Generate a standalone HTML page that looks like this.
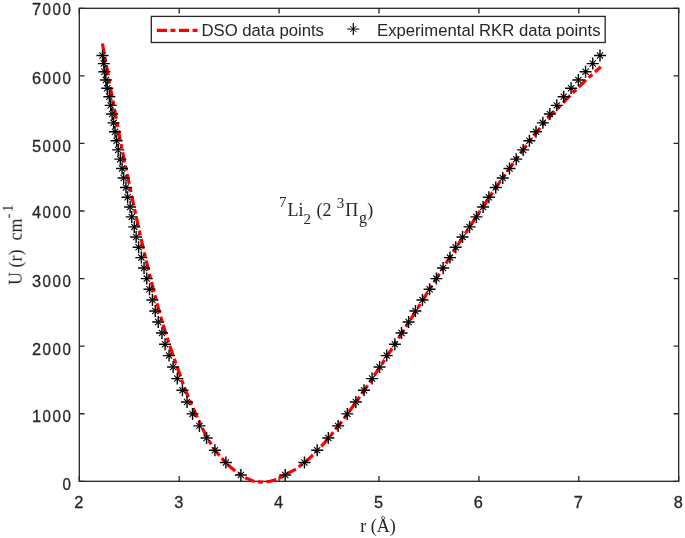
<!DOCTYPE html>
<html><head><meta charset="utf-8"><style>
html,body{margin:0;padding:0;background:#fff;}
svg{display:block;}
.t{font-family:"Liberation Sans",sans-serif;fill:#262626;}
.s{font-family:"Liberation Serif",serif;fill:#262626;}
</style></head><body>
<svg width="685" height="538" viewBox="0 0 685 538">
<defs><filter id="bl" x="-2%" y="-2%" width="104%" height="104%" color-interpolation-filters="sRGB"><feGaussianBlur stdDeviation="0.3"/></filter></defs>
<rect x="0" y="0" width="685" height="538" fill="#fff"/>
<g filter="url(#bl)">
<g transform="translate(0.5,0.5)">
<rect x="78.8" y="7.8" width="599.40" height="473.00" fill="none" stroke="#262626" stroke-width="1.3"/>
<path d="M78.80,480.8V475.6M78.80,7.8V13.0M178.70,480.8V475.6M178.70,7.8V13.0M278.60,480.8V475.6M278.60,7.8V13.0M378.50,480.8V475.6M378.50,7.8V13.0M478.40,480.8V475.6M478.40,7.8V13.0M578.30,480.8V475.6M578.30,7.8V13.0M678.20,480.8V475.6M678.20,7.8V13.0M78.8,480.80H84.0M678.2,480.80H673.0M78.8,413.23H84.0M678.2,413.23H673.0M78.8,345.66H84.0M678.2,345.66H673.0M78.8,278.09H84.0M678.2,278.09H673.0M78.8,210.51H84.0M678.2,210.51H673.0M78.8,142.94H84.0M678.2,142.94H673.0M78.8,75.37H84.0M678.2,75.37H673.0M78.8,7.80H84.0M678.2,7.80H673.0" fill="none" stroke="#262626" stroke-width="1.3"/>
<path d="M101.91,42.80 L102.48,46.26 L103.06,49.73 L103.63,53.19 L104.26,56.66 L104.95,60.12 L105.64,63.58 L106.33,67.05 L106.96,70.51 L107.56,73.97 L108.16,77.44 L108.77,80.90 L109.38,84.37 L110.04,87.83 L110.72,91.29 L111.40,94.76 L112.08,98.22 L112.73,101.69 L113.36,105.15 L113.99,108.61 L114.62,112.08 L115.26,115.54 L115.90,119.01 L116.54,122.47 L117.19,125.93 L117.84,129.40 L118.49,132.86 L119.15,136.32 L119.81,139.79 L120.48,143.25 L121.15,146.72 L121.83,150.18 L122.54,153.64 L123.25,157.11 L123.96,160.57 L124.68,164.04 L125.41,167.50 L126.14,170.96 L126.88,174.43 L127.62,177.89 L128.35,181.35 L129.06,184.82 L129.77,188.28 L130.49,191.75 L131.21,195.21 L131.94,198.67 L132.68,202.14 L133.43,205.60 L134.18,209.07 L134.92,212.53 L135.66,215.99 L136.40,219.46 L137.16,222.92 L137.92,226.38 L138.69,229.85 L139.47,233.31 L140.25,236.78 L141.04,240.24 L141.84,243.70 L142.65,247.17 L143.46,250.63 L144.27,254.10 L145.08,257.56 L145.91,261.02 L146.74,264.49 L147.59,267.95 L148.44,271.42 L149.30,274.88 L150.17,278.34 L151.06,281.81 L151.95,285.27 L152.85,288.73 L153.75,292.20 L154.64,295.66 L155.54,299.13 L156.46,302.59 L157.39,306.05 L158.33,309.52 L159.32,312.98 L160.32,316.45 L161.35,319.91 L162.38,323.37 L163.44,326.84 L164.50,330.30 L165.58,333.76 L166.68,337.23 L167.80,340.69 L168.93,344.16 L170.08,347.62 L171.25,351.08 L172.43,354.55 L173.64,358.01 L174.86,361.48 L176.11,364.94 L177.38,368.40 L178.60,371.87 L179.78,375.33 L180.98,378.79 L182.21,382.26 L183.47,385.72 L184.76,389.19 L186.16,392.65 L187.61,396.11 L189.10,399.58 L190.61,403.04 L192.11,406.51 L193.65,409.97 L195.23,413.43 L196.79,416.90 L198.41,420.36 L200.08,423.83 L201.72,427.29 L203.38,430.75 L205.11,434.22 L206.93,437.68 L209.02,441.14 L211.24,444.61 L213.58,448.07 L216.11,451.54 L218.85,455.00 L226.80,463.80 L235.60,471.40 L245.50,477.60 L253.70,481.00 L260.70,481.60 L268.90,481.00 L277.10,478.60 L287.60,472.60 L295.70,468.50 L301.60,463.80 L306.45,460.00 L309.60,457.17 L312.59,454.34 L315.43,451.50 L318.15,448.67 L320.78,445.84 L323.33,443.01 L325.81,440.17 L328.22,437.34 L330.58,434.51 L332.89,431.68 L335.16,428.84 L337.39,426.01 L339.59,423.18 L341.75,420.35 L343.89,417.51 L346.00,414.68 L348.09,411.85 L350.16,409.02 L352.21,406.18 L354.23,403.35 L356.25,400.52 L358.24,397.69 L360.22,394.86 L362.19,392.02 L364.14,389.19 L366.08,386.36 L368.01,383.53 L369.93,380.69 L371.83,377.86 L373.73,375.03 L375.62,372.20 L377.50,369.36 L379.38,366.53 L381.24,363.70 L383.10,360.87 L384.95,358.03 L386.80,355.20 L388.64,352.37 L390.47,349.54 L392.30,346.71 L394.13,343.87 L395.95,341.04 L397.76,338.21 L399.58,335.38 L401.38,332.54 L403.19,329.71 L404.99,326.88 L406.79,324.05 L408.59,321.21 L410.39,318.38 L412.18,315.55 L413.97,312.72 L415.76,309.88 L417.55,307.05 L419.34,304.22 L421.13,301.39 L422.92,298.55 L424.71,295.72 L426.50,292.89 L428.28,290.06 L430.07,287.23 L431.86,284.39 L433.65,281.56 L435.45,278.73 L437.24,275.90 L439.04,273.06 L440.83,270.23 L442.63,267.40 L444.44,264.57 L446.24,261.73 L448.05,258.90 L449.86,256.07 L451.67,253.24 L453.49,250.40 L455.31,247.57 L457.14,244.74 L458.97,241.91 L460.80,239.07 L462.64,236.24 L464.48,233.41 L466.33,230.58 L468.18,227.75 L470.04,224.91 L471.90,222.08 L473.77,219.25 L475.65,216.42 L477.53,213.58 L479.42,210.75 L481.32,207.92 L483.22,205.09 L485.13,202.25 L487.05,199.42 L488.97,196.59 L490.90,193.76 L492.84,190.92 L494.79,188.09 L496.75,185.26 L498.71,182.43 L500.69,179.59 L502.67,176.76 L504.66,173.93 L506.67,171.10 L508.68,168.27 L510.70,165.43 L512.73,162.60 L514.77,159.77 L516.84,156.94 L518.95,154.10 L521.07,151.27 L523.20,148.44 L525.35,145.61 L527.54,142.77 L529.75,139.94 L531.97,137.11 L534.20,134.28 L536.47,131.44 L538.78,128.61 L541.10,125.78 L543.44,122.95 L545.88,120.12 L548.34,117.28 L550.91,114.45 L553.54,111.62 L556.19,108.79 L558.92,105.95 L561.68,103.12 L564.46,100.29 L567.25,97.46 L570.06,94.62 L572.89,91.79 L575.77,88.96 L578.66,86.13 L581.63,83.29 L584.62,80.46 L587.69,77.63 L590.83,74.80 L594.04,71.96 L597.16,69.13 L600.27,66.30" fill="none" stroke="#ff0000" stroke-width="3.2" stroke-dasharray="10.2 3.5 4.9 3.55" stroke-dashoffset="-0.1"/>
<path d="M237.30,471.33l6.2,6.2M237.30,477.53l6.2,-6.2M222.26,458.90l6.2,6.2M222.26,465.10l6.2,-6.2M211.29,446.58l6.2,6.2M211.29,452.78l6.2,-6.2M202.97,434.38l6.2,6.2M202.97,440.58l6.2,-6.2M195.81,422.28l6.2,6.2M195.81,428.48l6.2,-6.2M188.96,410.29l6.2,6.2M188.96,416.49l6.2,-6.2M183.44,398.41l6.2,6.2M183.44,404.61l6.2,-6.2M178.84,386.64l6.2,6.2M178.84,392.84l6.2,-6.2M173.71,374.98l6.2,6.2M173.71,381.18l6.2,-6.2M169.50,363.43l6.2,6.2M169.50,369.63l6.2,-6.2M165.47,351.99l6.2,6.2M165.47,358.19l6.2,-6.2M161.47,340.67l6.2,6.2M161.47,346.87l6.2,-6.2M158.35,329.45l6.2,6.2M158.35,335.65l6.2,-6.2M154.62,318.34l6.2,6.2M154.62,324.54l6.2,-6.2M151.63,307.34l6.2,6.2M151.63,313.54l6.2,-6.2M148.82,296.45l6.2,6.2M148.82,302.65l6.2,-6.2M145.91,285.67l6.2,6.2M145.91,291.87l6.2,-6.2M143.18,275.00l6.2,6.2M143.18,281.20l6.2,-6.2M140.44,264.44l6.2,6.2M140.44,270.64l6.2,-6.2M137.76,253.99l6.2,6.2M137.76,260.19l6.2,-6.2M135.03,243.66l6.2,6.2M135.03,249.86l6.2,-6.2M132.54,233.43l6.2,6.2M132.54,239.63l6.2,-6.2M130.70,223.31l6.2,6.2M130.70,229.51l6.2,-6.2M128.14,213.30l6.2,6.2M128.14,219.50l6.2,-6.2M126.52,203.40l6.2,6.2M126.52,209.60l6.2,-6.2M123.99,193.61l6.2,6.2M123.99,199.81l6.2,-6.2M122.34,183.93l6.2,6.2M122.34,190.13l6.2,-6.2M120.07,174.36l6.2,6.2M120.07,180.56l6.2,-6.2M118.44,164.90l6.2,6.2M118.44,171.10l6.2,-6.2M116.73,155.55l6.2,6.2M116.73,161.75l6.2,-6.2M114.61,146.32l6.2,6.2M114.61,152.52l6.2,-6.2M113.01,137.19l6.2,6.2M113.01,143.39l6.2,-6.2M111.43,128.17l6.2,6.2M111.43,134.37l6.2,-6.2M109.98,119.26l6.2,6.2M109.98,125.46l6.2,-6.2M108.51,110.46l6.2,6.2M108.51,116.66l6.2,-6.2M107.11,101.77l6.2,6.2M107.11,107.97l6.2,-6.2M105.73,93.19l6.2,6.2M105.73,99.39l6.2,-6.2M103.63,84.72l6.2,6.2M103.63,90.92l6.2,-6.2M102.24,76.36l6.2,6.2M102.24,82.56l6.2,-6.2M100.83,68.12l6.2,6.2M100.83,74.32l6.2,-6.2M100.18,59.98l6.2,6.2M100.18,66.18l6.2,-6.2M98.90,51.95l6.2,6.2M98.90,58.15l6.2,-6.2M281.62,471.33l6.2,6.2M281.62,477.53l6.2,-6.2M300.85,458.90l6.2,6.2M300.85,465.10l6.2,-6.2M313.60,446.58l6.2,6.2M313.60,452.78l6.2,-6.2M324.73,434.38l6.2,6.2M324.73,440.58l6.2,-6.2M334.51,422.28l6.2,6.2M334.51,428.48l6.2,-6.2M343.72,410.29l6.2,6.2M343.72,416.49l6.2,-6.2M352.24,398.41l6.2,6.2M352.24,404.61l6.2,-6.2M360.45,386.64l6.2,6.2M360.45,392.84l6.2,-6.2M368.52,374.98l6.2,6.2M368.52,381.18l6.2,-6.2M376.00,363.43l6.2,6.2M376.00,369.63l6.2,-6.2M383.14,351.99l6.2,6.2M383.14,358.19l6.2,-6.2M391.24,340.67l6.2,6.2M391.24,346.87l6.2,-6.2M397.93,329.45l6.2,6.2M397.93,335.65l6.2,-6.2M405.00,318.34l6.2,6.2M405.00,324.54l6.2,-6.2M411.82,307.34l6.2,6.2M411.82,313.54l6.2,-6.2M418.84,296.45l6.2,6.2M418.84,302.65l6.2,-6.2M426.00,285.67l6.2,6.2M426.00,291.87l6.2,-6.2M432.81,275.00l6.2,6.2M432.81,281.20l6.2,-6.2M439.51,264.44l6.2,6.2M439.51,270.64l6.2,-6.2M446.38,253.99l6.2,6.2M446.38,260.19l6.2,-6.2M452.11,243.66l6.2,6.2M452.11,249.86l6.2,-6.2M458.93,233.43l6.2,6.2M458.93,239.63l6.2,-6.2M465.96,223.31l6.2,6.2M465.96,229.51l6.2,-6.2M472.84,213.30l6.2,6.2M472.84,219.50l6.2,-6.2M479.52,203.40l6.2,6.2M479.52,209.60l6.2,-6.2M485.30,193.61l6.2,6.2M485.30,199.81l6.2,-6.2M492.14,183.93l6.2,6.2M492.14,190.13l6.2,-6.2M499.15,174.36l6.2,6.2M499.15,180.56l6.2,-6.2M505.90,164.90l6.2,6.2M505.90,171.10l6.2,-6.2M512.62,155.55l6.2,6.2M512.62,161.75l6.2,-6.2M519.57,146.32l6.2,6.2M519.57,152.52l6.2,-6.2M525.80,137.19l6.2,6.2M525.80,143.39l6.2,-6.2M532.41,128.17l6.2,6.2M532.41,134.37l6.2,-6.2M539.27,119.26l6.2,6.2M539.27,125.46l6.2,-6.2M546.25,110.46l6.2,6.2M546.25,116.66l6.2,-6.2M553.20,101.77l6.2,6.2M553.20,107.97l6.2,-6.2M560.13,93.19l6.2,6.2M560.13,99.39l6.2,-6.2M567.46,84.72l6.2,6.2M567.46,90.92l6.2,-6.2M574.76,76.36l6.2,6.2M574.76,82.56l6.2,-6.2M581.96,68.12l6.2,6.2M581.96,74.32l6.2,-6.2M589.14,59.98l6.2,6.2M589.14,66.18l6.2,-6.2M596.37,51.95l6.2,6.2M596.37,58.15l6.2,-6.2" fill="none" stroke="#000" stroke-width="1.1"/>
<path d="M234.40,474.43h12.0M240.40,468.43v12.0M219.36,462.00h12.0M225.36,456.00v12.0M208.39,449.68h12.0M214.39,443.68v12.0M200.07,437.48h12.0M206.07,431.48v12.0M192.91,425.38h12.0M198.91,419.38v12.0M186.06,413.39h12.0M192.06,407.39v12.0M180.54,401.51h12.0M186.54,395.51v12.0M175.94,389.74h12.0M181.94,383.74v12.0M170.81,378.08h12.0M176.81,372.08v12.0M166.60,366.53h12.0M172.60,360.53v12.0M162.57,355.09h12.0M168.57,349.09v12.0M158.57,343.77h12.0M164.57,337.77v12.0M155.45,332.55h12.0M161.45,326.55v12.0M151.72,321.44h12.0M157.72,315.44v12.0M148.73,310.44h12.0M154.73,304.44v12.0M145.92,299.55h12.0M151.92,293.55v12.0M143.01,288.77h12.0M149.01,282.77v12.0M140.28,278.10h12.0M146.28,272.10v12.0M137.54,267.54h12.0M143.54,261.54v12.0M134.86,257.09h12.0M140.86,251.09v12.0M132.13,246.76h12.0M138.13,240.76v12.0M129.64,236.53h12.0M135.64,230.53v12.0M127.80,226.41h12.0M133.80,220.41v12.0M125.24,216.40h12.0M131.24,210.40v12.0M123.62,206.50h12.0M129.62,200.50v12.0M121.09,196.71h12.0M127.09,190.71v12.0M119.44,187.03h12.0M125.44,181.03v12.0M117.17,177.46h12.0M123.17,171.46v12.0M115.54,168.00h12.0M121.54,162.00v12.0M113.83,158.65h12.0M119.83,152.65v12.0M111.71,149.42h12.0M117.71,143.42v12.0M110.11,140.29h12.0M116.11,134.29v12.0M108.53,131.27h12.0M114.53,125.27v12.0M107.08,122.36h12.0M113.08,116.36v12.0M105.61,113.56h12.0M111.61,107.56v12.0M104.21,104.87h12.0M110.21,98.87v12.0M102.83,96.29h12.0M108.83,90.29v12.0M100.73,87.82h12.0M106.73,81.82v12.0M99.34,79.46h12.0M105.34,73.46v12.0M97.93,71.22h12.0M103.93,65.22v12.0M97.28,63.08h12.0M103.28,57.08v12.0M96.00,55.05h12.0M102.00,49.05v12.0M278.72,474.43h12.0M284.72,468.43v12.0M297.95,462.00h12.0M303.95,456.00v12.0M310.70,449.68h12.0M316.70,443.68v12.0M321.83,437.48h12.0M327.83,431.48v12.0M331.61,425.38h12.0M337.61,419.38v12.0M340.82,413.39h12.0M346.82,407.39v12.0M349.34,401.51h12.0M355.34,395.51v12.0M357.55,389.74h12.0M363.55,383.74v12.0M365.62,378.08h12.0M371.62,372.08v12.0M373.10,366.53h12.0M379.10,360.53v12.0M380.24,355.09h12.0M386.24,349.09v12.0M388.34,343.77h12.0M394.34,337.77v12.0M395.03,332.55h12.0M401.03,326.55v12.0M402.10,321.44h12.0M408.10,315.44v12.0M408.92,310.44h12.0M414.92,304.44v12.0M415.94,299.55h12.0M421.94,293.55v12.0M423.10,288.77h12.0M429.10,282.77v12.0M429.91,278.10h12.0M435.91,272.10v12.0M436.61,267.54h12.0M442.61,261.54v12.0M443.48,257.09h12.0M449.48,251.09v12.0M449.21,246.76h12.0M455.21,240.76v12.0M456.03,236.53h12.0M462.03,230.53v12.0M463.06,226.41h12.0M469.06,220.41v12.0M469.94,216.40h12.0M475.94,210.40v12.0M476.62,206.50h12.0M482.62,200.50v12.0M482.40,196.71h12.0M488.40,190.71v12.0M489.24,187.03h12.0M495.24,181.03v12.0M496.25,177.46h12.0M502.25,171.46v12.0M503.00,168.00h12.0M509.00,162.00v12.0M509.72,158.65h12.0M515.72,152.65v12.0M516.67,149.42h12.0M522.67,143.42v12.0M522.90,140.29h12.0M528.90,134.29v12.0M529.51,131.27h12.0M535.51,125.27v12.0M536.37,122.36h12.0M542.37,116.36v12.0M543.35,113.56h12.0M549.35,107.56v12.0M550.30,104.87h12.0M556.30,98.87v12.0M557.23,96.29h12.0M563.23,90.29v12.0M564.56,87.82h12.0M570.56,81.82v12.0M571.86,79.46h12.0M577.86,73.46v12.0M579.06,71.22h12.0M585.06,65.22v12.0M586.24,63.08h12.0M592.24,57.08v12.0M593.47,55.05h12.0M599.47,49.05v12.0" fill="none" stroke="#000" stroke-width="1.4"/>
</g>
<g class="t" font-size="18" stroke="#262626" stroke-width="0.3"><text text-anchor="middle" transform="translate(78.80,507.60) scale(0.91,0.95)">2</text><text text-anchor="middle" transform="translate(178.70,507.60) scale(0.91,0.95)">3</text><text text-anchor="middle" transform="translate(278.60,507.60) scale(0.91,0.95)">4</text><text text-anchor="middle" transform="translate(378.50,507.60) scale(0.91,0.95)">5</text><text text-anchor="middle" transform="translate(478.40,507.60) scale(0.91,0.95)">6</text><text text-anchor="middle" transform="translate(578.30,507.60) scale(0.91,0.95)">7</text><text text-anchor="middle" transform="translate(678.20,507.60) scale(0.91,0.95)">8</text><text text-anchor="middle" transform="translate(66.60,489.90) scale(0.84,0.95)">0</text><text text-anchor="middle" transform="translate(36.57,422.30) scale(0.91,0.95)">1</text><text text-anchor="middle" transform="translate(46.58,422.30) scale(0.84,0.95)">0</text><text text-anchor="middle" transform="translate(56.59,422.30) scale(0.84,0.95)">0</text><text text-anchor="middle" transform="translate(66.60,422.30) scale(0.84,0.95)">0</text><text text-anchor="middle" transform="translate(36.57,354.60) scale(0.91,0.95)">2</text><text text-anchor="middle" transform="translate(46.58,354.60) scale(0.84,0.95)">0</text><text text-anchor="middle" transform="translate(56.59,354.60) scale(0.84,0.95)">0</text><text text-anchor="middle" transform="translate(66.60,354.60) scale(0.84,0.95)">0</text><text text-anchor="middle" transform="translate(36.57,286.70) scale(0.91,0.95)">3</text><text text-anchor="middle" transform="translate(46.58,286.70) scale(0.84,0.95)">0</text><text text-anchor="middle" transform="translate(56.59,286.70) scale(0.84,0.95)">0</text><text text-anchor="middle" transform="translate(66.60,286.70) scale(0.84,0.95)">0</text><text text-anchor="middle" transform="translate(36.57,218.20) scale(0.91,0.95)">4</text><text text-anchor="middle" transform="translate(46.58,218.20) scale(0.84,0.95)">0</text><text text-anchor="middle" transform="translate(56.59,218.20) scale(0.84,0.95)">0</text><text text-anchor="middle" transform="translate(66.60,218.20) scale(0.84,0.95)">0</text><text text-anchor="middle" transform="translate(36.57,151.70) scale(0.91,0.95)">5</text><text text-anchor="middle" transform="translate(46.58,151.70) scale(0.84,0.95)">0</text><text text-anchor="middle" transform="translate(56.59,151.70) scale(0.84,0.95)">0</text><text text-anchor="middle" transform="translate(66.60,151.70) scale(0.84,0.95)">0</text><text text-anchor="middle" transform="translate(36.57,83.70) scale(0.91,0.95)">6</text><text text-anchor="middle" transform="translate(46.58,83.70) scale(0.84,0.95)">0</text><text text-anchor="middle" transform="translate(56.59,83.70) scale(0.84,0.95)">0</text><text text-anchor="middle" transform="translate(66.60,83.70) scale(0.84,0.95)">0</text><text text-anchor="middle" transform="translate(36.57,15.40) scale(0.91,0.95)">7</text><text text-anchor="middle" transform="translate(46.58,15.40) scale(0.84,0.95)">0</text><text text-anchor="middle" transform="translate(56.59,15.40) scale(0.84,0.95)">0</text><text text-anchor="middle" transform="translate(66.60,15.40) scale(0.84,0.95)">0</text></g>
<text class="s" x="360.3" y="532" font-size="18">r (Å)</text>
<text class="s" transform="translate(21.7,285) rotate(-90)" font-size="18">U (r)&#160;&#160;cm<tspan dy="-8.7" font-size="15">-<tspan dx="1.5">1</tspan></tspan></text>
<g class="s" font-size="18"><text x="279" y="207.2" font-size="15">7</text><text x="287.6" y="216">Li</text><text x="303.5" y="223.8" font-size="15">2</text><text x="316.5" y="216">(</text><text x="322.5" y="216">2</text><text x="336.8" y="207.6" font-size="15">3</text><text x="345.3" y="216">Π</text><text x="359" y="223.3" font-size="16">g</text><text x="367.3" y="216">)</text></g>
<g transform="translate(0.5,0.5)">
<rect x="150.8" y="15.9" width="453.9" height="26.1" fill="#fff" stroke="#262626" stroke-width="1.3"/>
<path d="M156.3,29.8H197.4" stroke="#ff0000" stroke-width="3.2" stroke-dasharray="10.2 3.5 4.9 3.5"/>
<path d="M349.70,25.40l6.2,6.2M349.70,31.60l6.2,-6.2" stroke="#000" stroke-width="0.9" fill="none"/><path d="M346.80,28.50h12.0M352.80,22.50v12.0" stroke="#000" stroke-width="1.2" fill="none"/>
</g>
<g class="t" font-size="16.7"><text x="201.5" y="35.5">DSO data points</text><text x="377" y="35.5">Experimental RKR data points</text></g>
</g>
</svg>
</body></html>
